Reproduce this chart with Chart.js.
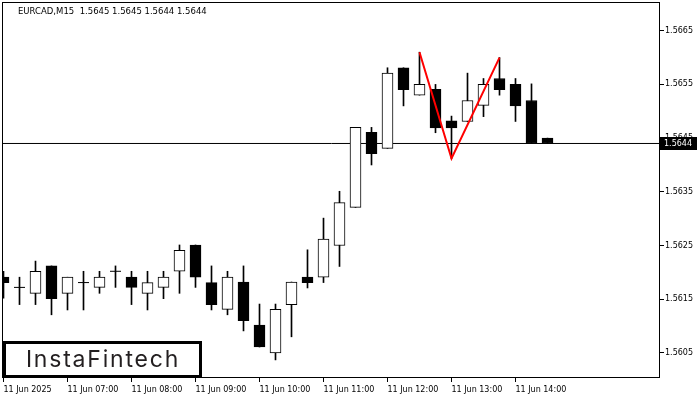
<!DOCTYPE html>
<html><head><meta charset="utf-8">
<script src="https://cdn.jsdelivr.net/npm/chart.js@4.4.1/dist/chart.umd.min.js"></script>
<style>html,body{margin:0;padding:0;background:#fff;}</style>
</head><body>
<canvas id="c" width="700" height="400"></canvas>
<script>
const symbolTitle = 'EURCAD,M15  1.5645 1.5645 1.5644 1.5644';
const times = ['06:00','06:15','06:30','06:45','07:00','07:15','07:30','07:45','08:00','08:15','08:30','08:45',
  '09:00','09:15','09:30','09:45','10:00','10:15','10:30','10:45','11:00','11:15','11:30','11:45',
  '12:00','12:15','12:30','12:45','13:00','13:15','13:30','13:45','14:00','14:15','14:30'];
const open  = [1.56191,1.56172,1.56161,1.56212,1.56161,1.56181,1.56172,1.56202,1.56191,1.56161,1.56172,1.56202,
  1.56251,1.56181,1.56131,1.56182,1.56102,1.56050,1.56140,1.56191,1.56191,1.56250,1.56321,1.56461,
  1.56431,1.56581,1.56530,1.56541,1.56482,1.56481,1.56511,1.56561,1.56550,1.56520,1.5645];
const high  = [1.56202,1.56191,1.56221,1.56212,1.56191,1.56202,1.56202,1.56212,1.56202,1.56202,1.56202,1.56251,
  1.56251,1.56212,1.56202,1.56212,1.56141,1.56141,1.56182,1.56242,1.56301,1.56351,1.56470,1.56470,
  1.56581,1.56581,1.56610,1.56550,1.56491,1.56571,1.56561,1.56600,1.56561,1.56551,1.5645];
const low   = [1.56152,1.56140,1.56140,1.56121,1.56130,1.56130,1.56161,1.56172,1.56140,1.56130,1.56151,1.56161,
  1.56172,1.56130,1.56121,1.56091,1.56061,1.56037,1.56080,1.56171,1.56181,1.56211,1.56321,1.56400,
  1.56431,1.56510,1.56530,1.56460,1.56412,1.56481,1.56490,1.56530,1.56481,1.56440,1.5644];
const close = [1.56181,1.56172,1.56202,1.56151,1.56191,1.56181,1.56191,1.56202,1.56172,1.56181,1.56191,1.56241,
  1.56191,1.56140,1.56191,1.56110,1.56061,1.56131,1.56182,1.56181,1.56262,1.56330,1.56470,1.56421,
  1.56571,1.56540,1.56550,1.56469,1.56469,1.56520,1.56550,1.56540,1.56510,1.56440,1.5644];
const xTickIndex  = [0,4,8,12,16,20,24,28,32];
const xTickLabels = ['11 Jun 2025','11 Jun 07:00','11 Jun 08:00','11 Jun 09:00','11 Jun 10:00',
  '11 Jun 11:00','11 Jun 12:00','11 Jun 13:00','11 Jun 14:00'];
const yTickValues = [1.5605,1.5615,1.5625,1.5635,1.5645,1.5655,1.5665];
const yTickLabels = ['1.5605','1.5615','1.5625','1.5635','1.5645','1.5655','1.5665'];
const currentPrice = 1.5644;
const currentPriceLabel = '1.5644';
const patternIndex = [26,28,31];
const patternPrice = [1.56610,1.56412,1.56600];
const brandText = 'InstaFintech';

const X_MIN = -1/32, X_MAX = -1/32 + 657/16;
const Y_MIN = 1.560033, Y_MAX = 1.567016;
const tickFont = {family:'DejaVu Sans', size:8};

const idx = times.map((t,i)=>i);
const wickData = idx.map(i=>({x:i, y:[low[i], high[i]]}));
const bodyData = idx.map(i=>({x:i, y:[open[i], close[i]]}));
const bodyColors = idx.map(i=> close[i] < open[i] ? '#000000' : '#ffffff');
const dojiData = idx.filter(i=>open[i]===close[i]).map(i=>({x:i, y:open[i]}));

const zeroPad = (s)=>{ s.paddingLeft = 0; s.paddingRight = 0; s.paddingTop = 0; s.paddingBottom = 0; };

const decor = {
  id:'decor',
  afterDraw(chart){
    const ctx = chart.ctx, ys = chart.scales.y;
    ctx.save();
    ctx.strokeStyle = '#000'; ctx.lineWidth = 1;
    ctx.strokeRect(2.5, 2.5, 657, 375);
    ctx.fillStyle = '#000';
    ctx.font = '8.5px "DejaVu Sans"';
    ctx.textBaseline = 'alphabetic'; ctx.textAlign = 'left';
    ctx.fillText(symbolTitle, 18, 13.5);
    const py = ys.getPixelForValue(currentPrice);
    ctx.fillStyle = '#000';
    ctx.fillRect(660, Math.round(py) - 6, 37, 13);
    ctx.fillStyle = '#fff';
    ctx.font = '8px "DejaVu Sans"';
    ctx.textBaseline = 'middle';
    ctx.fillText(currentPriceLabel, 664, Math.round(py) + 0.5);
    ctx.fillStyle = '#fff';
    ctx.fillRect(3, 341, 199, 37);
    ctx.lineWidth = 3; ctx.strokeStyle = '#000';
    ctx.strokeRect(4.5, 342.5, 196, 34);
    ctx.fillStyle = '#231f20';
    ctx.font = '400 23px Inter';
    try { ctx.letterSpacing = '1.8px'; } catch(e){}
    ctx.textAlign = 'center'; ctx.textBaseline = 'alphabetic';
    ctx.fillText(brandText, 103, 367);
    ctx.restore();
  }
};

new Chart(document.getElementById('c'), {
  type:'bar',
  data:{
    datasets:[
      {type:'line', data: patternIndex.map((x,i)=>({x, y:patternPrice[i]})), borderColor:'#ff0000', borderWidth:2,
        pointRadius:0, tension:0, fill:false, order:-1},
      {type:'line', data: dojiData, showLine:false, pointStyle:'line', pointRadius:5.5, borderColor:'#000',
        backgroundColor:'#000', pointBorderWidth:1, order:0},
      {data: bodyData, backgroundColor: bodyColors, borderColor:'#000', borderWidth:1, borderSkipped:false,
        barThickness:11, grouped:false, order:1},
      {data: wickData, backgroundColor:'#000', borderWidth:0, barThickness:1, grouped:false, order:2},
      {type:'line', data:[{x:X_MIN, y:currentPrice},{x:X_MAX, y:currentPrice}], borderColor:'#000', borderWidth:1,
        pointRadius:0, fill:false, order:5}
    ]
  },
  options:{
    responsive:false, animation:false, events:[],
    layout:{padding:{left:3, top:3, right:0, bottom:0}, autoPadding:false},
    plugins:{legend:{display:false}, tooltip:{enabled:false}, title:{display:false}},
    scales:{
      x:{type:'linear', min:X_MIN, max:X_MAX, offset:false,
        grid:{drawOnChartArea:false, drawTicks:true, tickLength:4, color:'#000', offset:false},
        border:{display:false},
        ticks:{autoSkip:false, maxRotation:0, minRotation:0, align:'start', padding:3, color:'#000', font:tickFont,
          callback:(v)=>{const k = xTickIndex.indexOf(v); return k>=0 ? xTickLabels[k] : '';}},
        afterBuildTicks:(s)=>{ s.ticks = xTickIndex.map(v=>({value:v})); },
        afterFit:(s)=>{ s.height = 22; zeroPad(s); }
      },
      y:{type:'linear', position:'right', min:Y_MIN, max:Y_MAX, beginAtZero:false,
        grid:{drawOnChartArea:false, drawTicks:true, tickLength:4, color:'#000', offset:false},
        border:{display:false},
        ticks:{padding:1, color:'#000', font:tickFont,
          callback:(v)=>{const k = yTickValues.indexOf(v); return k>=0 ? yTickLabels[k] : '';}},
        afterBuildTicks:(s)=>{ s.ticks = yTickValues.map(v=>({value:v})); },
        afterFit:(s)=>{ s.width = 40; zeroPad(s); }
      }
    }
  },
  plugins:[decor]
});
</script>
</body></html>
